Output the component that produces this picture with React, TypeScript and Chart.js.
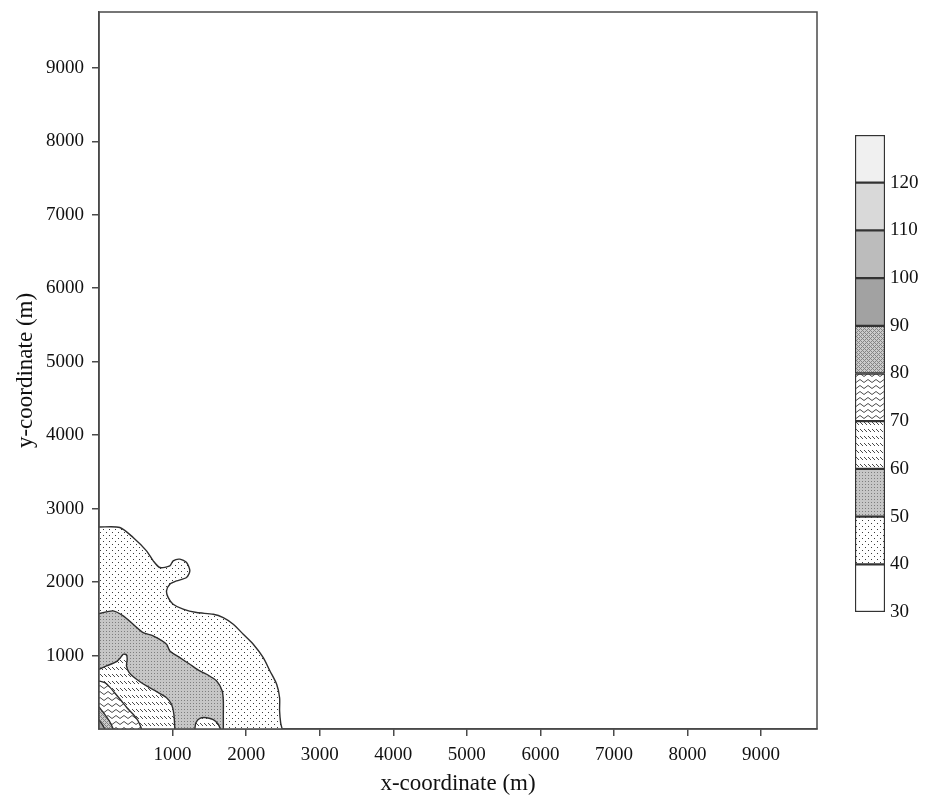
import React, { useEffect, useRef } from "react";
import { Chart, registerables } from "chart.js";

Chart.register(...registerables);

// ---------- data ----------
const xMax = 9760;
const yMax = 9760;
const xTicks = [1000, 2000, 3000, 4000, 5000, 6000, 7000, 8000, 9000];
const yTicks = [1000, 2000, 3000, 4000, 5000, 6000, 7000, 8000, 9000];
const cbTicks = [30, 40, 50, 60, 70, 80, 90, 100, 110, 120];
const cbBands = [
  [30, 40], [40, 50], [50, 60], [60, 70], [70, 80],
  [80, 90], [90, 100], [100, 110], [110, 120], [120, 130],
];

// contour boundaries (x, y in metres), from left edge to bottom edge
const contour40 = [
  [0, 2750], [283, 2743], [464, 2607], [646, 2425], [737, 2289], [827, 2198],
  [963, 2221], [1008, 2289], [1099, 2312], [1190, 2266], [1235, 2153],
  [1190, 2062], [1054, 2016], [963, 1971], [918, 1880], [941, 1789],
  [1008, 1699], [1144, 1631], [1327, 1585], [1553, 1562], [1689, 1516],
  [1825, 1426], [1961, 1290], [2097, 1154], [2233, 971], [2324, 790],
  [2415, 609], [2455, 426], [2455, 245], [2470, 80], [2490, 0],
];
const contour50 = [
  [0, 1570], [192, 1608], [328, 1540], [464, 1426], [600, 1312], [736, 1267],
  [918, 1154], [963, 1063], [1099, 971], [1235, 881], [1371, 790],
  [1463, 745], [1599, 654], [1675, 518], [1690, 381], [1690, 200], [1690, 0],
];
const island60 = [
  [1303, 0], [1317, 86], [1371, 146], [1463, 154], [1553, 127], [1621, 64], [1650, 0],
];
const contour60 = [
  [0, 813], [102, 858], [238, 917], [292, 971], [328, 1017], [374, 1008],
  [383, 950], [374, 858], [410, 767], [510, 677], [646, 586], [782, 508],
  [918, 426], [986, 336], [1018, 200], [1031, 0],
];
const contour70 = [
  [0, 654], [79, 631], [147, 570], [215, 490], [306, 381], [380, 290],
  [464, 200], [532, 109], [580, 0],
];
const contour80 = [[0, 300], [70, 210], [140, 110], [195, 0]];
const contour90 = [[0, 120], [45, 60], [80, 0]];

const FONT = "'Liberation Serif', 'Times New Roman', serif";

function makePattern(w: number, h: number, draw: (c: CanvasRenderingContext2D) => void) {
  const cv = document.createElement("canvas");
  cv.width = w;
  cv.height = h;
  const c = cv.getContext("2d")!;
  draw(c);
  return c.createPattern(cv, "repeat")!;
}

function buildFills() {
  const white = "#ffffff";
  const dots40 = makePattern(6, 6, (c) => {
    c.fillStyle = white; c.fillRect(0, 0, 6, 6);
    c.fillStyle = "#3a3a3a"; c.fillRect(1, 1, 1, 1); c.fillRect(4, 4, 1, 1);
  });
  const gray50 = makePattern(3, 3, (c) => {
    c.fillStyle = "#c6c6c6"; c.fillRect(0, 0, 3, 3);
    c.fillStyle = "#7e7e7e"; c.fillRect(1, 1, 1, 1);
  });
  const hatch60 = makePattern(4, 7, (c) => {
    c.fillStyle = white; c.fillRect(0, 0, 4, 7);
    c.fillStyle = "#4a4a4a";
    c.fillRect(0, 2, 1, 1); c.fillRect(1, 3, 1, 1); c.fillRect(2, 4, 1, 1);
  });
  const zig70 = makePattern(8, 6, (c) => {
    c.fillStyle = white; c.fillRect(0, 0, 8, 6);
    c.strokeStyle = "#4a4a4a"; c.lineWidth = 1;
    c.beginPath(); c.moveTo(0, 4.5); c.lineTo(4, 1.5); c.lineTo(8, 4.5); c.stroke();
  });
  const cross80 = makePattern(4, 4, (c) => {
    c.fillStyle = "#cbcbcb"; c.fillRect(0, 0, 4, 4);
    c.fillStyle = "#858585";
    c.fillRect(0, 0, 1, 1); c.fillRect(2, 2, 1, 1); c.fillRect(1, 1, 1, 1); c.fillRect(3, 3, 1, 1);
    c.fillRect(3, 1, 1, 1); c.fillRect(1, 3, 1, 1);
  });
  return [white, dots40, gray50, hatch60, zig70, cross80, "#a2a2a2", "#bcbcbc", "#d9d9d9", "#f0f0f0"];
}

const toPts = (arr: number[][]) => arr.map(([x, y]) => ({ x, y }));
const plain = (v: any) => String(v);

export default function App() {
  const mainRef = useRef<HTMLCanvasElement>(null);
  const cbRef = useRef<HTMLCanvasElement>(null);

  useEffect(() => {
    const fills = buildFills();
    const lineColor = "#2e2e2e";
    const contourSet = (data: number[][], fill: any, order: number) => ({
      data: toPts(data),
      backgroundColor: fill,
      borderColor: lineColor,
      borderWidth: 1.4,
      pointRadius: 0,
      tension: 0.25,
      fill: "origin",
      order,
    });

    const frame = {
      id: "frame",
      afterDatasetsDraw(chart: any) {
        const { ctx, chartArea: a } = chart;
        ctx.save();
        ctx.strokeStyle = "#4a4a4a";
        ctx.lineWidth = 1.5;
        ctx.strokeRect(a.left, a.top, a.right - a.left, a.bottom - a.top);
        ctx.restore();
      },
    };

    const tickFont = { family: FONT, size: 19 };
    const titleFont = { family: FONT, size: 23 };

    const main = new Chart(mainRef.current!, {
      type: "line",
      data: {
        datasets: [
          contourSet(contour40, fills[1], 7),
          contourSet(contour50, fills[2], 6),
          contourSet(island60, fills[3], 5),
          contourSet(contour60, fills[3], 4),
          contourSet(contour70, fills[4], 3),
          contourSet(contour80, fills[5], 2),
          contourSet(contour90, fills[6], 1),
        ] as any,
      },
      options: {
        animation: false,
        responsive: false,
        devicePixelRatio: 1,
        layout: { padding: { top: 12, right: 117, left: 0, bottom: 0 } },
        plugins: { legend: { display: false }, tooltip: { enabled: false } },
        scales: {
          x: {
            type: "linear",
            min: 0,
            max: xMax,
            afterFit: (s: any) => { s.height = 69; s.paddingLeft = 0; s.paddingRight = 0; },
            afterBuildTicks: (s: any) => { s.ticks = xTicks.map((v) => ({ value: v })); },
            grid: { display: true, drawOnChartArea: false, drawTicks: true, tickLength: 7, color: "#4a4a4a", lineWidth: 1.5 },
            border: { display: true, color: "#4a4a4a", width: 1.5 },
            ticks: { font: tickFont, color: "#111", padding: 8, maxRotation: 0, autoSkip: false, callback: plain },
            title: { display: true, text: "x-coordinate (m)", font: titleFont, color: "#111", padding: { top: 0, bottom: 0 } },
          },
          y: {
            type: "linear",
            min: 0,
            max: yMax,
            afterFit: (s: any) => { s.width = 99; s.paddingTop = 0; s.paddingBottom = 0; },
            afterBuildTicks: (s: any) => { s.ticks = yTicks.map((v) => ({ value: v })); },
            grid: { display: true, drawOnChartArea: false, drawTicks: true, tickLength: 7, color: "#4a4a4a", lineWidth: 1.5 },
            border: { display: true, color: "#4a4a4a", width: 1.5 },
            ticks: { font: tickFont, color: "#111", padding: 8, autoSkip: false, callback: plain },
            title: { display: true, text: "y-coordinate (m)", font: titleFont, color: "#111", padding: { top: 12, bottom: 0 } },
          },
        },
      },
      plugins: [frame],
    } as any);

    const cb = new Chart(cbRef.current!, {
      type: "bar",
      data: {
        labels: [""],
        datasets: cbBands.map((b, i) => ({
          data: [b],
          backgroundColor: fills[i],
          borderColor: "#333",
          borderWidth: 1.5,
          borderSkipped: false,
          grouped: false,
          barPercentage: 1,
          categoryPercentage: 1,
        })) as any,
      },
      options: {
        animation: false,
        responsive: false,
        devicePixelRatio: 1,
        layout: { padding: { top: 135, bottom: 186, left: 855, right: 0 } },
        plugins: { legend: { display: false }, tooltip: { enabled: false } },
        scales: {
          x: { display: false },
          y: {
            position: "right",
            min: 30,
            max: 130,
            afterFit: (s: any) => { s.width = 49; s.paddingTop = 0; s.paddingBottom = 0; },
            afterBuildTicks: (s: any) => { s.ticks = cbTicks.map((v) => ({ value: v })); },
            grid: { display: false, drawTicks: false },
            border: { display: false },
            ticks: { font: tickFont, color: "#111", padding: 5, autoSkip: false, callback: plain },
          },
        },
      },
    } as any);

    return () => {
      main.destroy();
      cb.destroy();
    };
  }, []);

  const style: React.CSSProperties = { position: "fixed", left: 0, top: 0, width: 934, height: 798 };
  return (
    <div>
      <canvas ref={mainRef} width={934} height={798} style={style} />
      <canvas ref={cbRef} width={934} height={798} style={{ ...style, pointerEvents: "none" }} />
    </div>
  );
}
